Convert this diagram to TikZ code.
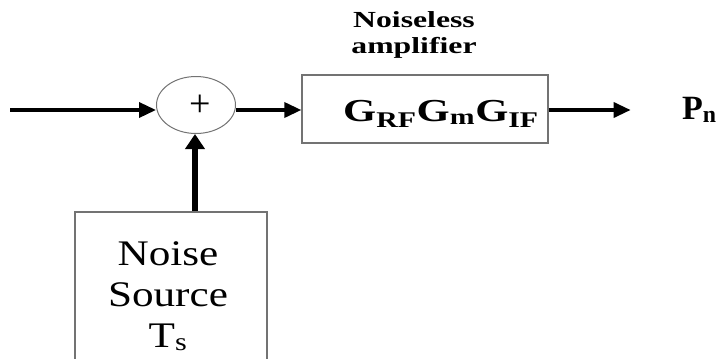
\documentclass[tikz,border=0pt]{standalone}
\usepackage{fontspec}
\usepackage{graphicx}
\setmainfont{Liberation Serif}
\usetikzlibrary{arrows.meta, positioning, calc, shapes.geometric}
\newcommand{\widen}[2]{\scalebox{#1}[1]{#2}}

\begin{document}
\begin{tikzpicture}[
    x=1pt, y=-1pt,
    sig/.style={-{Triangle[length=17pt, width=15pt]}, line width=3.5pt},
    blk/.style={draw=black!55, line width=1.3pt, fill=white}
]
\useasboundingbox (0,0) rectangle (724,359);
% summing junction and amplifier block
\coordinate (in) at (10,110);
\node[ellipse, draw=black!55, line width=1pt, minimum width=79pt,
      minimum height=57pt, inner sep=0pt] (sum) at (196,105) {};
\node[font=\fontsize{38}{40}\selectfont, inner sep=0pt] (plus) at (200,106) {+};
\node[blk, minimum width=246pt, minimum height=68pt, inner sep=0pt]
      (amp) at (425,109) {};
\node[font=\bfseries\fontsize{32}{38}\selectfont, anchor=base, inner sep=0pt]
      (gain) at (441,121)
      {\widen{1.33}{G\textsubscript{RF}G\textsubscript{m}G\textsubscript{IF}}};
\node[font=\bfseries\fontsize{23}{26}\selectfont, anchor=base, inner sep=0pt]
      (lbl) at (414,27)
      {\widen{1.38}{\begin{tabular}[t]{@{}c@{}}Noiseless\\amplifier\end{tabular}}};
\node[font=\bfseries\fontsize{34}{40}\selectfont, anchor=base west,
      inner sep=0pt] (out) at (682,119) {P\textsubscript{n}};
% noise source (runs off the bottom edge)
\node[blk, minimum width=192pt, minimum height=176pt, inner sep=0pt]
      (src) at (171,300) {};
\node[font=\fontsize{36}{41}\selectfont, anchor=base, inner sep=0pt]
      (srctxt) at (168,265)
      {\widen{1.2}{\begin{tabular}[t]{@{}c@{}}Noise\\Source\\T\textsubscript{s}\end{tabular}}};
\draw[sig] (in) -- (sum.west |- in);
\draw[sig] (sum.east |- in) -- (amp.west |- in);
\draw[sig] (amp.east |- in) -- ++(82,0) coordinate (pend);
\draw[sig, line width=5.5pt, -{Triangle[length=15pt, width=19pt]}]
      (src.north -| 195,0) -- (sum.south -| 195,0);
\end{tikzpicture}
\end{document}
